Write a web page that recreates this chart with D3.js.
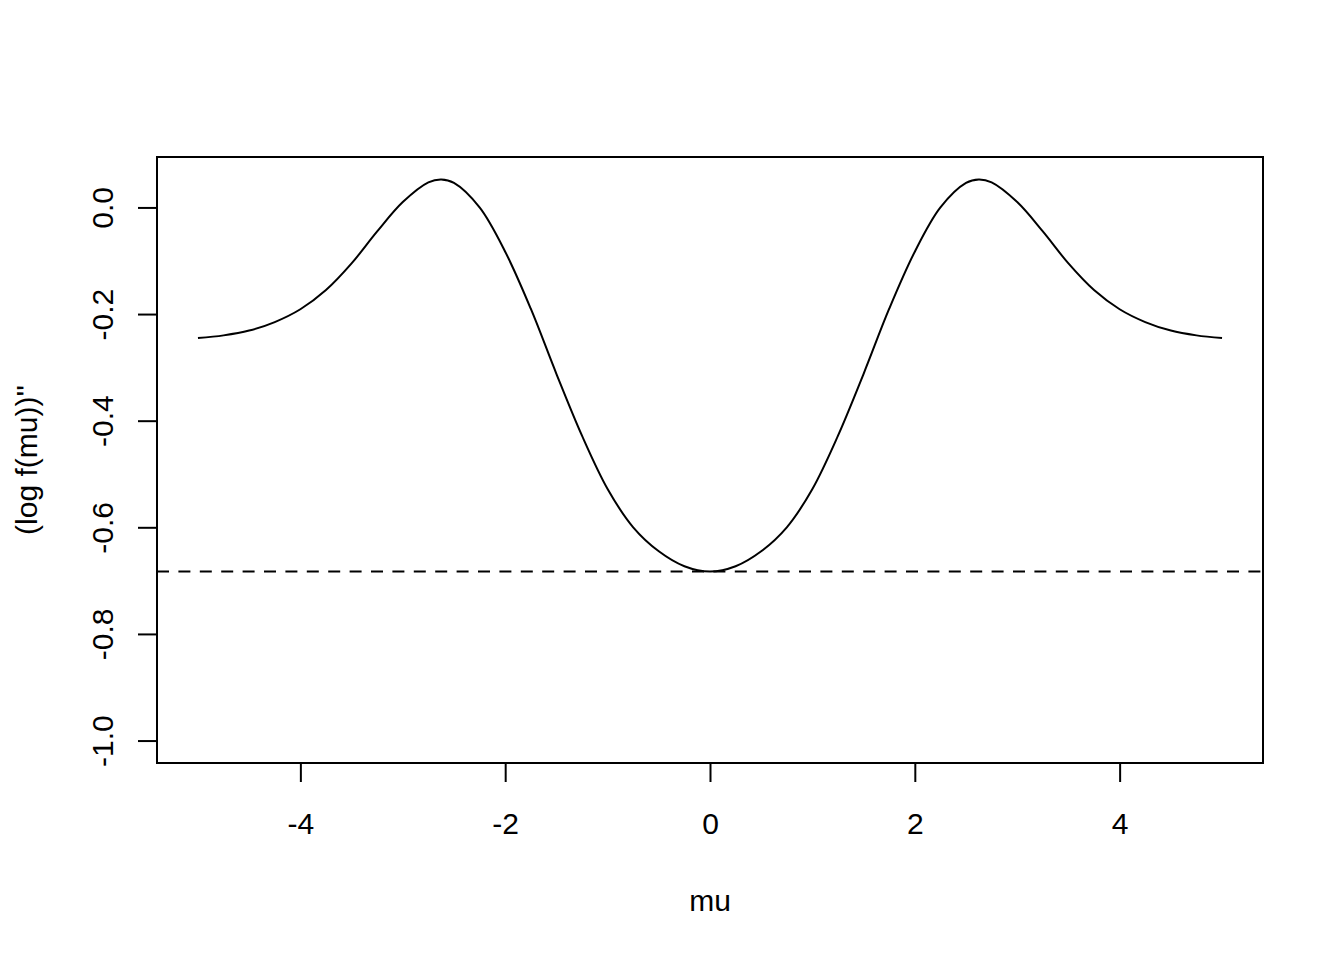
<!DOCTYPE html>
<html>
<head>
<meta charset="utf-8">
<script src="https://cdn.jsdelivr.net/npm/d3@7"></script>
<style>
  html, body { margin: 0; padding: 0; background: #fff; }
  svg { display: block; }
  text { font-family: "Liberation Sans", Arial, Helvetica, sans-serif; fill: #000; }
</style>
</head>
<body>
<svg id="chart" width="1344" height="960"></svg>
<script>
// ---- data ----
const mu = [-5, -4.75, -4.5, -4.25, -4, -3.75, -3.5, -3.25, -3, -2.75, -2.625, -2.5, -2.25, -2, -1.75, -1.5, -1.25, -1, -0.75, -0.5, -0.25,
            0, 0.25, 0.5, 0.75, 1, 1.25, 1.5, 1.75, 2, 2.25, 2.5, 2.625, 2.75, 3, 3.25, 3.5, 3.75, 4, 4.25, 4.5, 4.75, 5];
const logf2 = [-0.245, -0.240, -0.231, -0.215, -0.191, -0.155, -0.105, -0.045, 0.010, 0.047, 0.0525, 0.046, 0.000, -0.083, -0.190, -0.312, -0.428, -0.528, -0.600, -0.645, -0.673,
               -0.683, -0.673, -0.645, -0.600, -0.528, -0.428, -0.312, -0.190, -0.083, 0.000, 0.046, 0.0525, 0.047, 0.010, -0.045, -0.105, -0.155, -0.191, -0.215, -0.231, -0.240, -0.245];
const refLevel = [-0.683];
const xLimits = [-5, 5];
const yLimits = [-1, 0.0525];
const xTicks = [-4, -2, 0, 2, 4];
const yTicks = [0.0, -0.2, -0.4, -0.6, -0.8, -1.0];
const xTitle = "mu";
const yTitle = "(log f(mu))''";

// ---- layout ----
const svg = d3.select("#chart");
const plot = { left: 157, right: 1263, top: 157, bottom: 763 };
const fontSize = 30;

function extend(lim) { const d = (lim[1] - lim[0]) * 0.04; return [lim[0] - d, lim[1] + d]; }

const x = d3.scaleLinear().domain(extend(xLimits)).range([plot.left, plot.right]);
const y = d3.scaleLinear().domain(extend(yLimits)).range([plot.bottom, plot.top]);

const data = mu.map((m, i) => ({ m: m, v: logf2[i] }));

// curve
const line = d3.line().x(d => x(d.m)).y(d => y(d.v)).curve(d3.curveCatmullRom.alpha(0.5));
svg.append("path").datum(data)
  .attr("d", line)
  .attr("fill", "none").attr("stroke", "#000").attr("stroke-width", 2)
  .attr("stroke-linejoin", "round");

// dashed reference line
svg.selectAll("line.ref").data(refLevel).enter().append("line")
  .attr("class", "ref")
  .attr("x1", plot.left).attr("x2", plot.right)
  .attr("y1", d => y(d)).attr("y2", d => y(d))
  .attr("stroke", "#000").attr("stroke-width", 2)
  .attr("stroke-dasharray", "12,9.4");

// box
svg.append("rect")
  .attr("x", plot.left).attr("y", plot.top)
  .attr("width", plot.right - plot.left).attr("height", plot.bottom - plot.top)
  .attr("fill", "none").attr("stroke", "#000").attr("stroke-width", 2);

// x axis
const xAxis = d3.axisBottom(x).tickValues(xTicks).tickSize(19).tickFormat(d3.format("d"));
const gx = svg.append("g").attr("transform", `translate(0,${plot.bottom})`).call(xAxis);
gx.select(".domain").remove();
gx.selectAll(".tick line").attr("stroke", "#000").attr("stroke-width", 2);
gx.selectAll(".tick text")
  .attr("y", 71).attr("dy", null)
  .style("font-size", fontSize + "px")
  .style("font-family", '"Liberation Sans", Arial, sans-serif')
  .text(d => d < 0 ? "-" + Math.abs(d) : String(d));

// y axis
const yAxis = d3.axisLeft(y).tickValues(yTicks).tickSize(19);
const gy = svg.append("g").attr("transform", `translate(${plot.left},0)`).call(yAxis);
gy.select(".domain").remove();
gy.selectAll(".tick line").attr("stroke", "#000").attr("stroke-width", 2);
gy.selectAll(".tick text")
  .attr("x", null).attr("dy", null).attr("y", null)
  .attr("text-anchor", "middle")
  .attr("transform", "translate(-44,0) rotate(-90)")
  .style("font-size", fontSize + "px")
  .style("font-family", '"Liberation Sans", Arial, sans-serif')
  .text(d => d.toFixed(1).replace("-0.0", "0.0"));

// titles
svg.append("text")
  .attr("x", (plot.left + plot.right) / 2).attr("y", 911)
  .attr("text-anchor", "middle")
  .style("font-size", fontSize + "px")
  .text(xTitle);

svg.append("text")
  .attr("transform", `translate(37,${(plot.top + plot.bottom) / 2}) rotate(-90)`)
  .attr("text-anchor", "middle")
  .style("font-size", fontSize + "px")
  .text(yTitle);
</script>
</body>
</html>
